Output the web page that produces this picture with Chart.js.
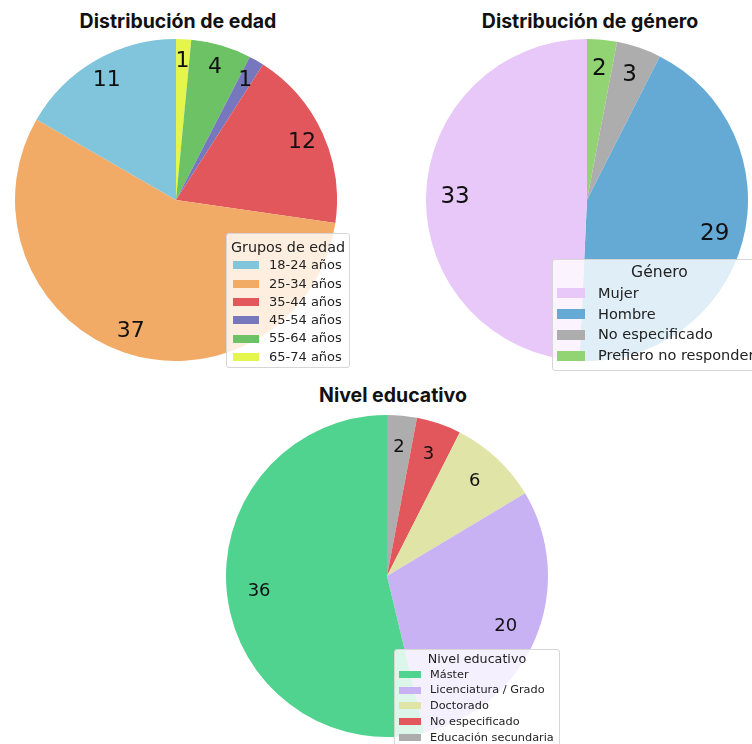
<!DOCTYPE html>
<html>
<head>
<meta charset="utf-8">
<script src="https://cdn.jsdelivr.net/npm/chart.js@4/dist/chart.umd.min.js"></script>
<style>
  body { margin:0; background:#fff; width:752px; height:744px; overflow:hidden; position:relative; font-family:"DejaVu Sans", sans-serif; }
  .ttl { position:absolute; font-family:Inter, "Open Sans", sans-serif; font-weight:700; font-size:19.5px; color:#111; transform:translate(-50%,-50%); white-space:nowrap; }
  .pie { position:absolute; }
  .lg { position:absolute; background:rgba(255,255,255,0.8); border:1px solid #d6d6d6; border-radius:3px; color:#222; box-sizing:border-box; white-space:nowrap; }
  .lg .row { display:flex; align-items:center; }
  .lg .t { justify-content:center; }
  .lg .sw { display:inline-block; flex:none; }
</style>
</head>
<body>
<div class="ttl" style="left:178px;top:21px">Distribución de edad</div>
<div class="ttl" style="left:590px;top:21px">Distribución de género</div>
<div class="ttl" style="left:393px;top:395px">Nivel educativo</div>

<canvas id="c-age" class="pie" style="left:15px;top:39px" width="322" height="322"></canvas>
<canvas id="c-gender" class="pie" style="left:426px;top:39px" width="322" height="322"></canvas>
<canvas id="c-edu" class="pie" style="left:226px;top:415px" width="322" height="322"></canvas>

<div id="lg-age" class="lg" style="left:226px;top:233px;width:124px;height:135px;padding-top:4px;font-size:13px;line-height:18.3px"></div>
<div id="lg-gender" class="lg" style="left:552px;top:259px;width:215px;height:112px;padding-top:2px;font-size:14.5px;line-height:20.8px"></div>
<div id="lg-edu" class="lg" style="left:394px;top:649px;width:166px;height:105px;padding-top:1px;font-size:11.3px;line-height:15.7px"></div>

<script>
// edad
const ageLabels = ['18-24 años', '25-34 años', '35-44 años', '45-54 años', '55-64 años', '65-74 años'];
const ageValues = [11, 37, 12, 1, 4, 1];
const ageColors = ['#80c5dc', '#f2ab66', '#e1575b', '#7677bc', '#6cc264', '#e4f54b'];

// género
const genderLabels = ['Mujer', 'Hombre', 'No especificado', 'Prefiero no responder'];
const genderValues = [33, 29, 3, 2];
const genderColors = ['#e8c7f9', '#65aad4', '#adadad', '#92d474'];

// nivel educativo
const eduLabels = ['Máster', 'Licenciatura / Grado', 'Doctorado', 'No especificado', 'Educación secundaria'];
const eduValues = [36, 20, 6, 3, 2];
const eduColors = ['#50d38f', '#c9b2f3', '#e0e4a6', '#e1575b', '#adadad'];

// numbers inside the slices (like autopct in matplotlib)
const sliceLabels = {
  id: 'sliceLabels',
  afterDatasetsDraw(chart, args, opts) {
    const ctx = chart.ctx;
    const meta = chart.getDatasetMeta(0);
    const vals = chart.data.datasets[0].data;
    ctx.save();
    ctx.fillStyle = '#111';
    ctx.font = opts.size + 'px "DejaVu Sans"';
    ctx.textAlign = 'center'; ctx.textBaseline = 'middle';
    meta.data.forEach((arc, i) => {
      const p = arc.getProps(['x','y','startAngle','endAngle','outerRadius'], true);
      const a = (p.startAngle + p.endAngle) / 2, r = p.outerRadius * opts.frac;
      ctx.fillText(String(vals[i]), p.x + Math.cos(a) * r, p.y + Math.sin(a) * r);
    });
    ctx.restore();
  }
};

// matplotlib draws counter-clockwise from the top, Chart.js clockwise -> reverse
function makePie(id, labels, values, colors, frac, size) {
  return new Chart(document.getElementById(id), {
    type: 'pie',
    data: { labels: [...labels].reverse(), datasets: [{ data: [...values].reverse(), backgroundColor: [...colors].reverse(), borderWidth: 0 }] },
    options: {
      responsive: false, animation: false, events: [],
      layout: { padding: 0 },
      plugins: { legend: { display: false }, tooltip: { enabled: false }, sliceLabels: { frac, size } }
    },
    plugins: [sliceLabels]
  });
}

function makeLegend(id, title, labels, colors, sw) {
  let html = `<div class="row t" style="font-size:${sw.tsize}px">${title}</div>`;
  labels.forEach((l, i) => {
    html += `<div class="row"><span class="sw" style="margin-left:${sw.left}px;width:${sw.w}px;height:${sw.h}px;background:${colors[i]}"></span><span style="margin-left:${sw.gap}px">${l}</span></div>`;
  });
  document.getElementById(id).innerHTML = html;
}

makePie('c-age', ageLabels, ageValues, ageColors, 0.86, 22);
makePie('c-gender', genderLabels, genderValues, genderColors, 0.82, 23);
makePie('c-edu', eduLabels, eduValues, eduColors, 0.8, 18);

makeLegend('lg-age', 'Grupos de edad', ageLabels, ageColors, { left: 6, w: 26, h: 8, gap: 10, tsize: 14.3 });
makeLegend('lg-gender', 'Género', genderLabels, genderColors, { left: 4, w: 28, h: 10, gap: 13, tsize: 15.6 });
makeLegend('lg-edu', 'Nivel educativo', eduLabels, eduColors, { left: 4, w: 22, h: 7, gap: 9, tsize: 12.7 });
</script>
</body>
</html>
